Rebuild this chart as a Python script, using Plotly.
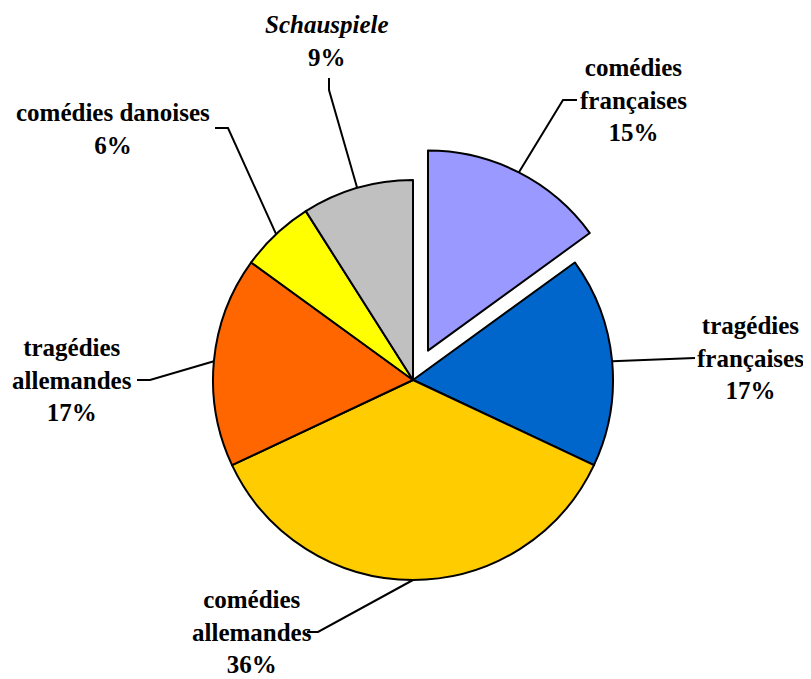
import math
import plotly.graph_objects as go

# ----------------------------------
# Data
# ----------------------------------
labels = [
    "comédies<br>françaises",
    "tragédies<br>françaises",
    "comédies<br>allemandes",
    "tragédies<br>allemandes",
    "comédies danoises",
    "<i>Schauspiele</i>",
]
values = [15, 17, 36, 17, 6, 9]
colors = ["#9999FF", "#0066CC", "#FFCC00", "#FF6600", "#FFFF00", "#C0C0C0"]
pulls = [0.165, 0, 0, 0, 0, 0]

# ----------------------------------
# Layout (pixel space of the 811x679 window; page body has an 8px margin)
# ----------------------------------
W, H, OFF = 811, 679, 8
CX, CY, R = 413, 380, 200
# label centre, elbow, line end (all in pixels)
label_pos = [(633, 100), (750, 358), (252, 632), (72, 380), (113, 129), (327, 41)]
elbows = [(563, 100), (680, 358), (318, 632), (150, 380), (228, 128), (329, 90)]
line_ends = [(577, 100), (695, 358), (307, 632), (137, 380), (215, 128), (329, 78)]

FW, FH = W - OFF, H - OFF
box = R * (1 + max(pulls))

fig = go.Figure()

# leader lines, starting on the slice edge at each mid angle
total = sum(values)
cum = 0
for i, v in enumerate(values):
    mid = (cum + v / 2) / total * 2 * math.pi
    cum += v
    rr = R * (1 + pulls[i])
    sx = CX + rr * math.sin(mid)
    sy = CY - rr * math.cos(mid)
    fig.add_trace(
        go.Scatter(
            x=[sx, elbows[i][0], line_ends[i][0]],
            y=[sy, elbows[i][1], line_ends[i][1]],
            mode="lines",
            line=dict(color="black", width=2),
            hoverinfo="skip",
            showlegend=False
        )
    )

fig.add_trace(
    go.Pie(
        labels=labels,
        values=values,
        sort=False,
        direction="clockwise",
        rotation=0,
        pull=pulls,
        textinfo="none",
        marker=dict(colors=colors, line=dict(color="black", width=2)),
        domain=dict(
            x=[(CX - OFF - box) / FW, (CX - OFF + box) / FW],
            y=[1 - (CY - OFF + box) / FH, 1 - (CY - OFF - box) / FH]
        ),
        showlegend=False
    )
)

for i, v in enumerate(values):
    pct = round(v / total * 100)
    fig.add_annotation(
        x=label_pos[i][0],
        y=label_pos[i][1],
        xref="x",
        yref="y",
        text="<b>%s<br>%d%%</b>" % (labels[i], pct),
        showarrow=False,
        align="center",
        xanchor="center",
        yanchor="middle",
        font=dict(family="Liberation Serif", size=25, color="black")
    )

fig.update_layout(
    width=FW,
    height=FH,
    margin=dict(l=0, r=0, t=0, b=0),
    paper_bgcolor="white",
    plot_bgcolor="white",
    xaxis=dict(range=[OFF, W], visible=False, fixedrange=True),
    yaxis=dict(range=[H, OFF], visible=False, fixedrange=True)
)

fig.write_html("out.html")
